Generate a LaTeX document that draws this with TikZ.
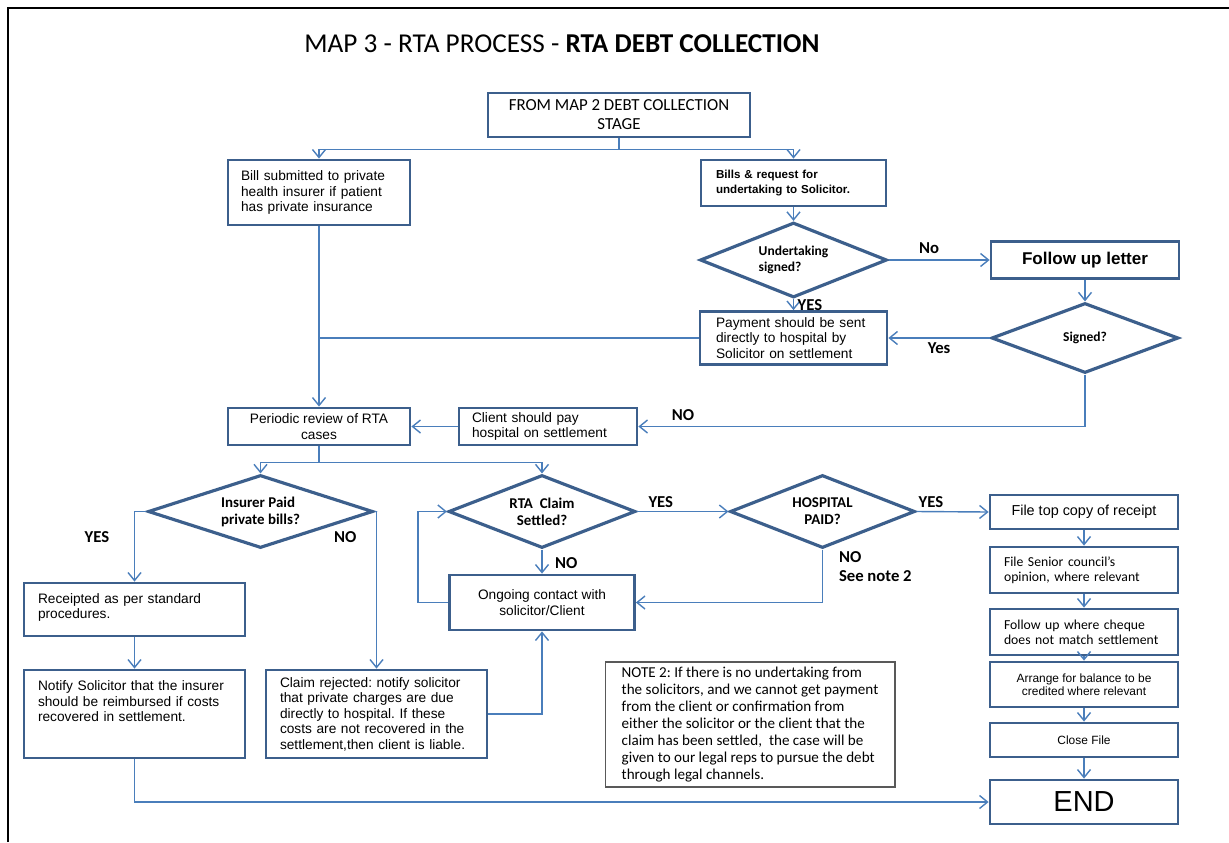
\documentclass[tikz,border=0pt]{standalone}
\usepackage{fontspec}
\setmainfont{Liberation Sans}
\newfontfamily\calib{Carlito}
\usepackage{xcolor}
\usepackage{tikz}
\usetikzlibrary{arrows.meta, shapes.geometric}
\definecolor{boxblue}{HTML}{3C5F8C}
\definecolor{lineblue}{HTML}{4A7EBB}
\newcommand{\arialfs}{\fontsize{7.8}{8.8}\selectfont}
\frenchspacing

\begin{document}
\begin{tikzpicture}[x=0.02cm, y=-0.02cm,
  block/.style={rectangle, draw=boxblue, line width=1.6pt, fill=white, inner sep=0pt, align=center, font=\arialfs},
  decision/.style={diamond, draw=boxblue, line width=1.8pt, fill=white, inner sep=0pt, aspect=2.5, align=center, font=\calib\bfseries\fontsize{8.5}{9.6}\selectfont},
  arrow/.style={-{Straight Barb[length=1.6mm, width=2.6mm]}, draw=lineblue, line width=0.8pt},
  link/.style={draw=lineblue, line width=0.8pt},
  answer/.style={font=\calib\bfseries\fontsize{9.5}{11}\selectfont, inner sep=1pt}
]
 \useasboundingbox (0,0) rectangle (1229,842);
 \draw[line width=1.2pt] (8,842) -- (8,8) -- (1229,8);

 % Title and start
 \node[font=\calib\fontsize{15.5}{18}\selectfont] (title) at (562,44) {MAP 3 - RTA PROCESS - \textbf{RTA DEBT COLLECTION}};
 \node[block, font=\calib\fontsize{9.6}{10.8}\selectfont, minimum width=5.24cm, minimum height=0.88cm] (fromMap) at (619,115) {FROM MAP 2 DEBT COLLECTION\\STAGE};

 % Insurer branch
 \node[block, align=left, text width=3.12cm, minimum width=3.64cm, minimum height=1.3cm] (billIns) at (319,192.5) {Bill submitted to private\\health insurer if patient\\has private insurance};

 % Solicitor branch
 \node[block, align=left, text width=3.1cm, minimum width=3.7cm, minimum height=0.92cm, font=\bfseries\fontsize{6.6}{8}\selectfont] (billSol) at (793.5,183) {Bills \& request for\\undertaking to Solicitor.};
 \node[decision, minimum width=3.74cm, minimum height=1.5cm, align=left, font=\calib\bfseries\fontsize{7.7}{9}\selectfont] (undertake) at (793.5,260) {Undertaking\\signed?};
 \node[block, minimum width=3.76cm, minimum height=0.74cm, font=\bfseries\fontsize{9.7}{11}\selectfont] (followUp) at (1085,260) {Follow up letter};
 \node[decision, minimum width=3.74cm, minimum height=1.4cm, font=\calib\bfseries\fontsize{7.7}{9}\selectfont] (signed) at (1085,338) {Signed?};
 \node[block, align=left, text width=3.1cm, minimum width=3.74cm, minimum height=1.06cm] (payment) at (793.5,338) {Payment should be sent\\directly to hospital by\\Solicitor on settlement};

 % Review
 \node[block, minimum width=3.64cm, minimum height=0.74cm] (periodic) at (319,426.5) {Periodic review of RTA\\cases};
 \node[block, align=left, text width=3.04cm, minimum width=3.56cm, minimum height=0.74cm] (clientPay) at (548,426.5) {Client should pay\\hospital on settlement};

 % Decisions
 \node[decision, minimum width=4.5cm, minimum height=1.46cm, align=left] (insurer) at (260.5,511.5) {Insurer Paid\\private bills?};
 \node[decision, minimum width=3.74cm, minimum height=1.46cm] (rtaClaim) at (542,511.5) {RTA\ \ Claim\\Settled?};
 \node[decision, minimum width=3.7cm, minimum height=1.46cm] (hospital) at (822.5,511.5) {HOSPITAL\\PAID?};

 % Lower left
 \node[block, align=left, text width=3.86cm, minimum width=4.42cm, minimum height=1.06cm, text depth=13pt] (receipted) at (134.5,609.5) {Receipted as per standard\\procedures.};
 \node[block, align=left, text width=3.86cm, minimum width=4.42cm, minimum height=1.76cm, text depth=32pt] (notify) at (134.5,714) {Notify Solicitor that the insurer\\should be reimbursed if costs\\recovered in settlement.};
 \node[block, align=left, text width=3.86cm, minimum width=4.42cm, minimum height=1.76cm] (claimRej) at (376.5,714) {Claim rejected: notify solicitor\\that private charges are due\\directly to hospital. If these\\costs are not recovered in the\\settlement,then client is liable.};
 \node[block, minimum width=3.7cm, minimum height=1.1cm] (ongoing) at (542,602.5) {Ongoing contact with\\solicitor/Client};

 % Closing steps
 \node[block, minimum width=3.76cm, minimum height=0.68cm, font=\fontsize{8.2}{9.5}\selectfont] (fileTop) at (1084,512) {File top copy of receipt};
 \node[block, align=left, text width=3.2cm, minimum width=3.76cm, minimum height=0.92cm, font=\calib\fontsize{7.8}{8.6}\selectfont] (fileSenior) at (1084,570) {File Senior council’s\\opinion, where relevant};
 \node[block, align=left, text width=3.2cm, minimum width=3.76cm, minimum height=0.92cm, font=\calib\fontsize{7.8}{8.6}\selectfont] (followCheque) at (1084,632) {Follow up where cheque\\does not match settlement};
 \node[block, minimum width=3.76cm, minimum height=0.9cm, font=\fontsize{6.8}{7.6}\selectfont] (arrange) at (1084,684.5) {Arrange for balance to be\\credited where relevant};
 \node[block, minimum width=3.76cm, minimum height=0.68cm, font=\fontsize{6.8}{7.6}\selectfont] (closeFile) at (1084,740) {Close File};
 \node[block, minimum width=3.76cm, minimum height=0.88cm, font=\fontsize{16.5}{18}\selectfont] (endBox) at (1084,802) {END};

 % Note
 \node[draw=gray!70!black, line width=0.6pt, fill=white, inner sep=0pt, align=left, minimum width=5.8cm, minimum height=2.5cm, font=\calib\fontsize{8.6}{9.6}\selectfont] (note) at (750,724.5) {NOTE 2: If there is no undertaking from\\the solicitors, and we cannot get payment\\from the client or confirmation from\\either the solicitor or the client that the\\claim has been settled,\ \ the case will be\\given to our legal reps to pursue the debt\\through legal channels.};

 % Connectors
 \draw[arrow] (fromMap.south) -- ++(0,11) -| (billIns.north);
 \draw[arrow] (fromMap.south) -- ++(0,11) -| (billSol.north);
 \draw[arrow] (billSol.south) -- (undertake.north);
 \draw[arrow] (undertake.east) -- node[answer, pos=0.4, above=2pt] {No} (followUp.west);
 \draw[arrow] (followUp.south) -- (signed.north);
 \draw[arrow] (signed.west) -- node[answer, below=1pt] {Yes} (payment.east);
 \draw[arrow] (undertake.south) -- node[answer, right=1pt] {YES} (payment.north);
 \draw[arrow] (billIns.south) -- (periodic.north);
 \draw[link] (payment.west) -- (payment.west -| billIns.south);
 \draw[arrow] (clientPay.west) -- (periodic.east);
 \draw[arrow] (signed.south) |- node[answer, pos=0.95, above=2pt] {NO} (clientPay.east);
 \draw[arrow] (periodic.south) -- ++(0,16) -| (insurer.north);
 \draw[arrow] (periodic.south) -- ++(0,16) -| (rtaClaim.north);
 \draw[arrow] (insurer.west) -| node[answer, pos=0.68, left=13pt] {YES} (receipted.north);
 \draw[arrow] (insurer.east) -| node[answer, pos=0.58, left=10pt] {NO} (claimRej.north);
 \draw[arrow] (receipted.south) -- (notify.north);
 \draw[arrow] (claimRej.east) -| (ongoing.south);
 \draw[arrow] (rtaClaim.south) -- node[answer, pos=0.55, right=6pt] {NO} (ongoing.north);
 \draw[arrow] (ongoing.west) -- ++(-30,0) |- (rtaClaim.west);
 \draw[arrow] (rtaClaim.east) -- node[answer, pos=0.26, above=1pt] {YES} (hospital.west);
 \draw[arrow] (hospital.south) |- node[answer, pos=0.16, right=8pt, align=left] {NO\\See note 2} (ongoing.east);
 \draw[arrow] (hospital.east) -- node[answer, pos=0.2, above=1pt] {YES} (fileTop.west);
 \draw[arrow] (fileTop.south) -- (fileSenior.north);
 \draw[arrow] (fileSenior.south) -- (followCheque.north);
 \draw[arrow] (followCheque.south) -- (arrange.north);
 \draw[arrow] (arrange.south) -- (closeFile.north);
 \draw[arrow] (closeFile.south) -- (endBox.north);
 \draw[arrow] (notify.south) |- (endBox.west);
\end{tikzpicture}
\end{document}
